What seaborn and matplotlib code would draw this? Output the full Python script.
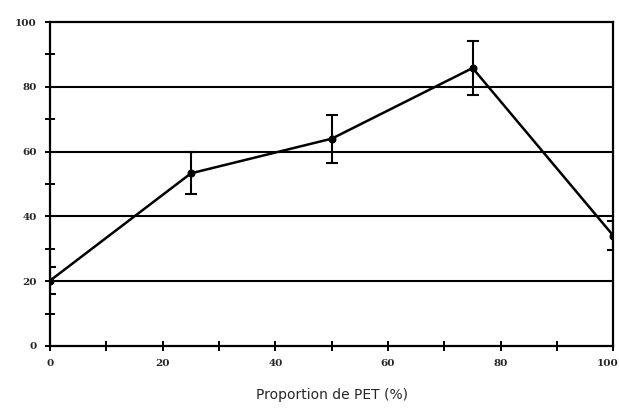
import matplotlib.pyplot as plt
import matplotlib.transforms as mtransforms
import seaborn as sns
import pandas as pd
import numpy as np
from matplotlib.ticker import MultipleLocator

# Données
proportion_pet = [0, 25, 50, 75, 100]
valeurs = [20.2, 53.3, 64.0, 85.8, 34.0]
erreurs = [4.3, 6.5, 7.4, 8.2, 4.5]
y_ticks = [0, 20, 40, 60, 80, 100]
x_ticks = [0, 20, 40, 60, 80, 100]

df = pd.DataFrame({'PET': proportion_pet, 'valeur': valeurs, 'err': erreurs})

sns.set_style('white')
plt.rcParams['font.family'] = ['DejaVu Sans']

fig = plt.figure(figsize=(6.19, 4.08), dpi=100)
ax = fig.add_axes([0.081, 0.152, 0.91, 0.794])

# Lignes horizontales de la grille
for yv in y_ticks[1:-1]:
    ax.axhline(yv, color='black', linewidth=1.5, zorder=1)

sns.lineplot(data=df, x='PET', y='valeur', color='black', linewidth=1.8,
             marker='o', markersize=5, markeredgecolor='black', ax=ax, zorder=3)
ax.errorbar(df['PET'], df['valeur'], yerr=df['err'], fmt='none',
            ecolor='black', elinewidth=1.5, capsize=4, capthick=1.5, zorder=3)

ax.set_xlim(0, 100)
ax.set_ylim(0, 100)
ax.set_xticks(x_ticks)
ax.set_yticks(y_ticks)
ax.xaxis.set_minor_locator(MultipleLocator(10))
ax.yaxis.set_minor_locator(MultipleLocator(10))
ax.tick_params(axis='both', which='both', direction='inout', length=7,
               width=1.4, color='black', left=True, bottom=True)
ax.tick_params(axis='both', which='major', labelsize=7.5, pad=6)
for lab in ax.get_xticklabels() + ax.get_yticklabels():
    lab.set_fontfamily('DejaVu Serif')
    lab.set_fontweight('bold')

# Décaler légèrement le dernier label pour qu'il reste dans l'image
last = ax.get_xticklabels()[-1]
last.set_transform(last.get_transform() +
                   mtransforms.ScaledTranslation(-6 / 100, 0, fig.dpi_scale_trans))

for side in ['left', 'bottom', 'right', 'top']:
    ax.spines[side].set_visible(True)
    ax.spines[side].set_color('black')
    ax.spines[side].set_linewidth(1.6)

ax.set_xlabel('Proportion de PET (%)', fontsize=10, labelpad=14)
ax.set_ylabel('')

plt.savefig('out.png', dpi=100, facecolor='white')
plt.close()
